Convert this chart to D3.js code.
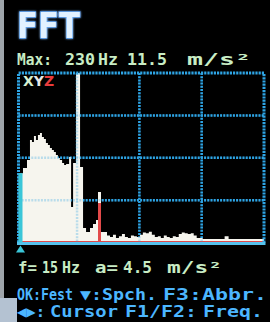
<!DOCTYPE html>
<html><head><meta charset="utf-8">
<script src="https://cdn.jsdelivr.net/npm/d3@7"></script>
<style>html,body{margin:0;padding:0;background:#000;overflow:hidden}</style>
</head><body>
<script>
// ---------- data ----------
const title = "FFT";
const maxLabel = ["Max:", "230", "Hz", "11.5", "m/s²"];
const cursorLabel = ["f=", "15", "Hz", "a=", "4.5", "m/s²"];
const helpLine1 = ["OK:Fest", "▼:Spch.", "F3:Abbr."];
const helpLine2 = ["◀▶:", "Cursor", "F1/F2:", "Freq."];
const legendLetters = ["X", "Y", "Z"];
const legendColors = ["#d6f0d2", "#e6e6e6", "#e83c3c"];
const cursorFreq = 15, cursorAmp = 4.5;
const freqDomain = [15, 1000];
const ampDomain = [0, 11];
const freqGrid = [250, 500, 750];
const ampGrid = [2.75, 5.5, 8.25];

// XY spectrum (Hz, m/s²)
const xyFreq = [15, 33, 49, 61, 69, 77, 85, 93, 101, 109, 117, 125, 133, 141, 149, 157, 165, 173, 181, 190, 198, 206, 218, 226, 234, 246, 262, 274, 286, 302, 314, 326, 334, 346,
  358, 370, 382, 394, 406, 418, 430, 442, 454, 466, 478, 490, 502, 514, 526, 538, 550, 562, 574, 586, 598, 610, 622, 634, 646, 658, 670, 682, 694, 706, 718, 730, 742,
  754, 842, 858, 1000];
const xyAmp = [4.5, 4.83, 5.35, 6.65, 6.52, 6.91, 6.65, 6.98, 7.1, 6.85, 6.72, 6.46, 6.33, 6.13, 6.0, 5.87, 5.68, 5.48, 5.35, 5.16, 5.03, 5.1, 5.55, 2.3, 5.16, 11.5, 4.9, 0.94, 0.68, 0.94, 1.2, 1.46, 3.28, 0.68,
  0.68, 0.45, 0.35, 0.5, 0.3, 0.4, 0.55, 0.35, 0.3, 0.45, 0.4, 0.35, 0.5, 0.65, 0.6, 0.7, 0.5, 0.35, 0.4, 0.3, 0.45, 0.35, 0.3, 0.4, 0.35, 0.55, 0.65, 0.6, 0.55, 0.6, 0.45, 0.3, 0.3,
  0.22, 0.4, 0.22, 0.22];
// Z spectrum
const zFreq = [15, 334, 346, 1000];
const zAmp = [0.1, 2.56, 0.1, 0.1];

// ---------- drawing ----------
const W = 270, H = 322;
const svg = d3.select("body").append("svg").attr("width", W).attr("height", H);
const defs = svg.append("defs");
const glow = defs.append("filter").attr("id", "glow").attr("x", "-20%").attr("y", "-20%").attr("width", "140%").attr("height", "140%");
glow.append("feGaussianBlur").attr("stdDeviation", 1).attr("result", "b");
const fm = glow.append("feMerge");
fm.append("feMergeNode").attr("in", "b");
fm.append("feMergeNode").attr("in", "SourceGraphic");

svg.append("rect").attr("width", W).attr("height", H).attr("fill", "#000");
// bezel bits
svg.append("rect").attr("x", 0).attr("y", 0).attr("width", 4).attr("height", H).attr("fill", "#9ea4aa");
svg.append("rect").attr("x", 0).attr("y", 298).attr("width", 17).attr("height", 24).attr("fill", "#b4c2d2");

const x = d3.scaleLinear().domain(freqDomain).range([18.5, 264]);
const y = d3.scaleLinear().domain(ampDomain).range([242.5, 73]);

defs.append("clipPath").attr("id", "plot").append("rect")
  .attr("x", x(freqDomain[0])).attr("y", y(ampDomain[1]))
  .attr("width", x(freqDomain[1]) - x(freqDomain[0])).attr("height", y(0) - y(ampDomain[1]));

const gridColor = "#2ea4e4";
function drawGrid(g, op) {
  g.selectAll(".h").data(ampGrid).join("line")
    .attr("x1", x(freqDomain[0])).attr("x2", x(freqDomain[1]))
    .attr("y1", d => y(d)).attr("y2", d => y(d))
    .attr("stroke", gridColor).attr("stroke-width", 2.5).attr("stroke-dasharray", "2 1.2").attr("opacity", op);
  g.selectAll(".v").data(freqGrid).join("line")
    .attr("y1", y(ampDomain[1])).attr("y2", y(0))
    .attr("x1", d => x(d)).attr("x2", d => x(d))
    .attr("stroke", gridColor).attr("stroke-width", 2.5).attr("stroke-dasharray", "2 1.2").attr("opacity", op);
}
drawGrid(svg.append("g"), 1);

const xyData = xyFreq.map((f, i) => ({ f, a: xyAmp[i] }));
const zData = zFreq.map((f, i) => ({ f, a: zAmp[i] }));
const area = d3.area().x(d => x(d.f)).y0(y(0)).y1(d => y(d.a)).curve(d3.curveStepAfter);
const plot = svg.append("g").attr("clip-path", "url(#plot)");
plot.append("path").datum(xyData).attr("d", area).attr("fill", "#f6f5ee");
plot.append("path").datum(zData).attr("d", area).attr("fill", "#e24a4a");

drawGrid(svg.append("g"), 0.3);

// frame
const fx0 = x(freqDomain[0]), fx1 = x(freqDomain[1]), fy0 = y(ampDomain[1]), fy1 = y(0);
svg.append("path").attr("d", `M${fx0},${fy1}V${fy0}H${fx1}V${fy1}`)
  .attr("fill", "none").attr("stroke", gridColor).attr("stroke-width", 3).attr("stroke-dasharray", "2.2 1");
svg.append("line").attr("x1", fx0 - 1.5).attr("x2", fx1 + 1.5).attr("y1", fy1 + 1).attr("y2", fy1 + 1)
  .attr("stroke", "#56c2ee").attr("stroke-width", 3);

// cursor
svg.append("rect").attr("x", x(cursorFreq)).attr("y", y(cursorAmp)).attr("width", 4).attr("height", y(0) - y(cursorAmp))
  .attr("fill", "#3ac6d8");
const cx = x(cursorFreq) + 2;
svg.append("path").attr("d", `M${cx},${fy1 + 3}L${cx + 4.5},${fy1 + 10}L${cx - 4.5},${fy1 + 10}Z`).attr("fill", "#3ac6d8");

// texts
const font = "'DejaVu Sans Mono', 'Liberation Mono', monospace";
svg.append("text").attr("x", 17).attr("y", 38).text(title)
  .attr("font-family", "'DejaVu Sans', sans-serif").attr("font-weight", "bold").attr("font-size", 36)
  .attr("textLength", 63).attr("lengthAdjust", "spacingAndGlyphs")
  .attr("fill", "#e2f1ff").attr("stroke", "#4a9af0").attr("stroke-width", 1.5).attr("paint-order", "stroke")
  .attr("filter", "url(#glow)");
svg.append("line").attr("x1", 17).attr("x2", 270).attr("y1", 45).attr("y2", 45)
  .attr("stroke", "#7cc8f4").attr("stroke-width", 3).attr("filter", "url(#glow)");

function words(list, xs, ws, baseline, size, color) {
  list.forEach((t, i) => {
    const el = svg.append("text").attr("transform", `translate(${xs[i]},${baseline})`).text(t)
      .attr("font-family", font).attr("font-weight", "bold").attr("font-size", size)
      .attr("fill", color);
    const nat = el.node().getComputedTextLength();
    const sx = Math.max(0.8, Math.min(1.7, ws[i] / nat));
    el.attr("transform", `translate(${xs[i]},${baseline}) scale(${sx},1)`);
    if (Math.abs(nat * sx - ws[i]) > 1) {
      el.attr("textLength", ws[i] / sx).attr("lengthAdjust", "spacing");
    }
  });
}
words(maxLabel, [17, 65, 98, 127, 187], [35, 30, 20, 40, 64], 65, 16, "#c8ecc4");
words(cursorLabel, [18, 42, 62, 95, 123, 167], [19, 16, 18, 23, 29, 55], 273, 16, "#c8ecc4");
words(helpLine1, [17, 80, 163], [56, 77, 104], 300, 15.5, "#4cb6ff");
words(helpLine2, [17, 50, 125, 203], [28, 68, 72, 60], 317, 15.5, "#4cb6ff");

// legend
const lg = svg.append("text").attr("x", 23).attr("y", 86)
  .attr("font-family", "'DejaVu Sans', sans-serif").attr("font-weight", "bold").attr("font-size", 14);
legendLetters.forEach((l, i) => lg.append("tspan").text(l).attr("fill", legendColors[i]));
</script>
</body></html>
